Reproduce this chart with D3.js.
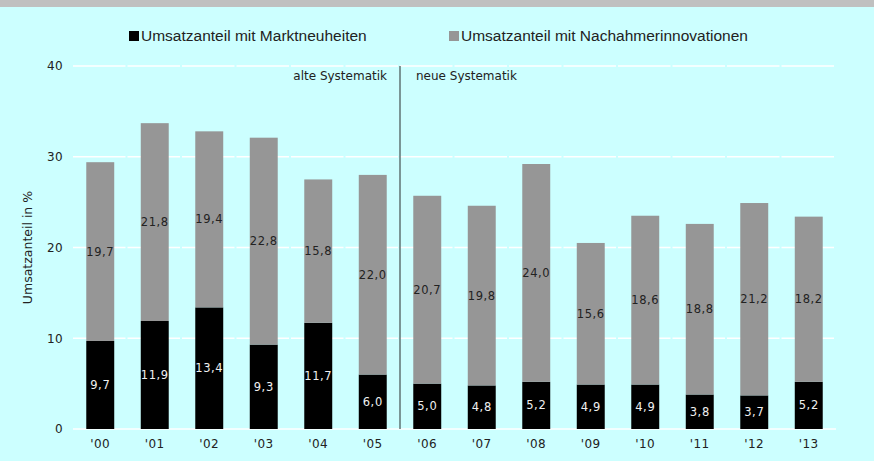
<!DOCTYPE html>
<html><head><meta charset="utf-8">
<script src="https://cdn.jsdelivr.net/npm/d3@7"></script>
<style>
html,body{margin:0;padding:0;background:#CCFFFF;}
svg{display:block;}
</style></head>
<body>
<svg id="chart" width="874" height="461"></svg>
<script>
const years = ["'00","'01","'02","'03","'04","'05","'06","'07","'08","'09","'10","'11","'12","'13"];
const marktneuheiten = [9.7,11.9,13.4,9.3,11.7,6.0,5.0,4.8,5.2,4.9,4.9,3.8,3.7,5.2];
const nachahmer = [19.7,21.8,19.4,22.8,15.8,22.0,20.7,19.8,24.0,15.6,18.6,18.8,21.2,18.2];
const yTicks = [0,10,20,30,40];
const seriesNames = ["Umsatzanteil mit Marktneuheiten","Umsatzanteil mit Nachahmerinnovationen"];
const seriesColors = ["#000000","#969696"];
const labelColors = ["#F0F0F0","#222222"];
const yLabel = "Umsatzanteil in %";
const dividerAfter = "'05";

const svg = d3.select("#chart");
const W = 874, H = 461;
const m = {left:73, right:38, top:66, bottom:32};

svg.append("rect").attr("x",0).attr("y",0).attr("width",W).attr("height",H).attr("fill","#CCFFFF");
svg.append("rect").attr("x",0).attr("y",0).attr("width",W).attr("height",7).attr("fill","#C0C0C0");

const x = d3.scaleBand().domain(years).range([m.left, W - m.right]).paddingInner(0.487).paddingOuter(0.2435);
const y = d3.scaleLinear().domain([0,40]).range([H - m.bottom, m.top]);

// gridlines
const grid = svg.append("g");
grid.selectAll("line").data(yTicks).join("line")
  .attr("x1", m.left).attr("x2", W - m.right)
  .attr("y1", d => y(d)).attr("y2", d => y(d))
  .attr("stroke", "#FFFFFF").attr("stroke-width", 1.5)
  .attr("stroke-dasharray", d => d === 0 ? null : (x.step()-2) + ",2");

// y axis labels
const yAxis = d3.axisLeft(y).tickValues(yTicks).tickSize(0).tickPadding(0).tickFormat(d3.format("d"));
const ya = svg.append("g").attr("transform", `translate(${m.left-10},0)`).call(yAxis);
ya.select(".domain").remove();
ya.selectAll("text").attr("font-family","DejaVu Sans, Verdana, sans-serif").attr("font-size",12).attr("fill","#222").attr("letter-spacing",0.4);

// x axis labels
const xAxis = d3.axisBottom(x).tickSize(0).tickPadding(0);
const xa = svg.append("g").attr("transform", `translate(0,${H - m.bottom + 10})`).call(xAxis);
xa.select(".domain").remove();
xa.selectAll("text").attr("font-family","DejaVu Sans, Verdana, sans-serif").attr("font-size",12).attr("fill","#222").attr("letter-spacing",0.4);

// stacked bars
const rows = years.map((yr,i) => ({year: yr, a: marktneuheiten[i], b: nachahmer[i]}));
const stack = d3.stack().keys(["a","b"])(rows);
const fmt = v => v.toFixed(1).replace(".", ",");

stack.forEach((layer, li) => {
  const g = svg.append("g");
  g.selectAll("rect").data(layer).join("rect")
    .attr("x", d => x(d.data.year))
    .attr("width", x.bandwidth())
    .attr("y", d => y(d[1]))
    .attr("height", d => y(d[0]) - y(d[1]))
    .attr("fill", seriesColors[li]);
  g.selectAll("text").data(layer).join("text")
    .attr("x", d => x(d.data.year) + x.bandwidth()/2)
    .attr("y", d => (y(d[0]) + y(d[1]))/2)
    .attr("dy", "0.35em")
    .attr("text-anchor", "middle")
    .attr("font-family","DejaVu Sans, Verdana, sans-serif").attr("font-size",11.5)
    .attr("letter-spacing",0.6)
    .attr("fill", labelColors[li])
    .text(d => fmt(d[1]-d[0]));
});

// divider
const xd = x(dividerAfter) + x.bandwidth() + (x.step() - x.bandwidth())/2;
svg.append("line").attr("x1", xd).attr("x2", xd).attr("y1", y(40)).attr("y2", y(0))
  .attr("stroke","#5F7373").attr("stroke-width",1.5);
svg.append("text").attr("x", xd - 13).attr("y", 80).attr("text-anchor","end")
  .attr("font-family","DejaVu Sans, Verdana, sans-serif").attr("font-size",12).attr("fill","#222")
  .text("alte Systematik");
svg.append("text").attr("x", xd + 16).attr("y", 80).attr("text-anchor","start")
  .attr("font-family","DejaVu Sans, Verdana, sans-serif").attr("font-size",12).attr("fill","#222")
  .text("neue Systematik");

// y label
svg.append("text").attr("transform", `translate(32,${(y(0)+y(40))/2}) rotate(-90)`)
  .attr("text-anchor","middle")
  .attr("font-family","DejaVu Sans, Verdana, sans-serif").attr("font-size",12.5).attr("fill","#222")
  .text(yLabel);

// legend
const legX = [129, 449];
const leg = svg.append("g");
seriesNames.forEach((n,i) => {
  leg.append("rect").attr("x", legX[i]).attr("y", 31).attr("width", 10).attr("height", 10).attr("fill", seriesColors[i]);
  leg.append("text").attr("x", legX[i] + 12).attr("y", 40.5)
    .attr("font-family","Liberation Sans Narrow, Arial Narrow, sans-serif").attr("font-size",15.5).attr("fill","#222")
    .text(n);
});
</script>
</body></html>
